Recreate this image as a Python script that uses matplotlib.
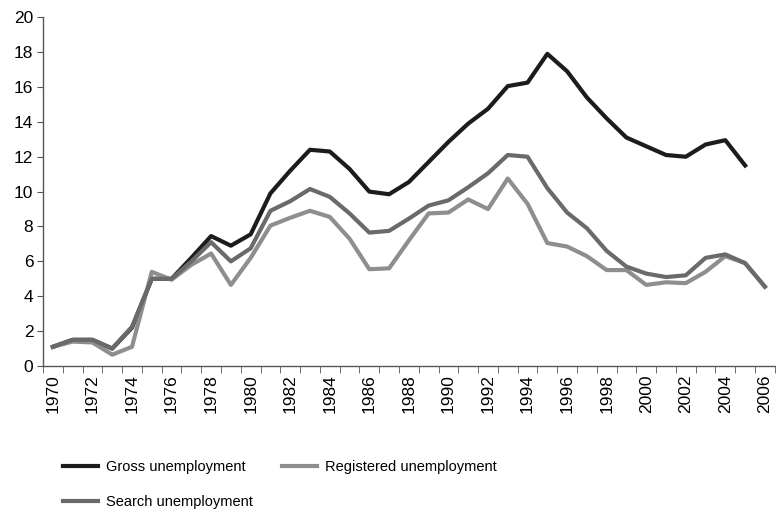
import numpy as np
import matplotlib.pyplot as plt

plt.rcParams['font.family'] = ['Liberation Sans', 'DejaVu Sans']

years = list(range(1970, 2007))

# gross series stops in 2005
gross = [1.1, 1.5, 1.5, 1.0, 2.2, 5.0, 5.0, 6.2, 7.45, 6.9, 7.55, 9.9, 11.2, 12.4,
         12.3, 11.3, 10.0, 9.85, 10.55, 11.7, 12.85, 13.9, 14.75, 16.05, 16.25,
         17.9, 16.9, 15.4, 14.2, 13.1, 12.6, 12.1, 12.0, 12.7, 12.95, 11.5]
search = [1.1, 1.5, 1.5, 1.0, 2.25, 5.0, 5.0, 6.0, 7.1, 6.0, 6.75, 8.9, 9.45, 10.15,
          9.7, 8.75, 7.65, 7.75, 8.45, 9.2, 9.5, 10.25, 11.05, 12.1, 12.0,
          10.2, 8.8, 7.9, 6.6, 5.7, 5.3, 5.1, 5.2, 6.2, 6.4, 5.9, 4.55]
registered = [1.1, 1.4, 1.35, 0.65, 1.1, 5.4, 4.95, 5.8, 6.45, 4.65, 6.2, 8.05, 8.5,
              8.9, 8.55, 7.3, 5.55, 5.6, 7.2, 8.75, 8.8, 9.55, 9.0, 10.75, 9.3,
              7.05, 6.85, 6.3, 5.5, 5.5, 4.65, 4.8, 4.75, 5.4, 6.3, 5.9, 4.55]

fig = plt.figure(figsize=(7.76, 5.19), dpi=100)
ax = fig.add_axes([0.0554, 0.2948, 0.943, 0.672])

x = np.arange(len(years))
l1, = ax.plot(x[:len(gross)], gross, color='#1c1c1c', lw=3, label='Gross unemployment')
l3, = ax.plot(x, registered, color='#8e8e8e', lw=3, label='Registered unemployment')
l2, = ax.plot(x, search, color='#6a6a6a', lw=3, label='Search unemployment')

ax.set_xlim(-0.5, len(years) - 0.5)
ax.set_ylim(0, 20)
ax.set_yticks(range(0, 21, 2))

# category style axis: labels on years, tick marks between them
ax.set_xticks(x[::2])
ax.set_xticklabels([str(y) for y in years[::2]], rotation=90)
ax.set_xticks(np.arange(-0.5, len(years), 1), minor=True)
ax.tick_params(axis='x', which='major', length=0, pad=6, labelsize=12.5)
ax.tick_params(axis='x', which='minor', length=5, color='#555555')
ax.tick_params(axis='y', length=4, color='#555555', labelsize=12.5, pad=3)

for s in ['top', 'right']:
    ax.spines[s].set_visible(False)
for s in ['left', 'bottom']:
    ax.spines[s].set_color('#555555')
    ax.spines[s].set_linewidth(1)

fig.legend([l1, l2, l3], ['Gross unemployment', 'Search unemployment', 'Registered unemployment'],
           loc='upper left', bbox_to_anchor=(0.081, 0.113), ncol=2, frameon=False,
           fontsize=10.5, handlelength=2.4, handletextpad=0.55, columnspacing=2.0,
           labelspacing=1.4, borderpad=0, borderaxespad=0)

fig.savefig('out.png', dpi=100)
